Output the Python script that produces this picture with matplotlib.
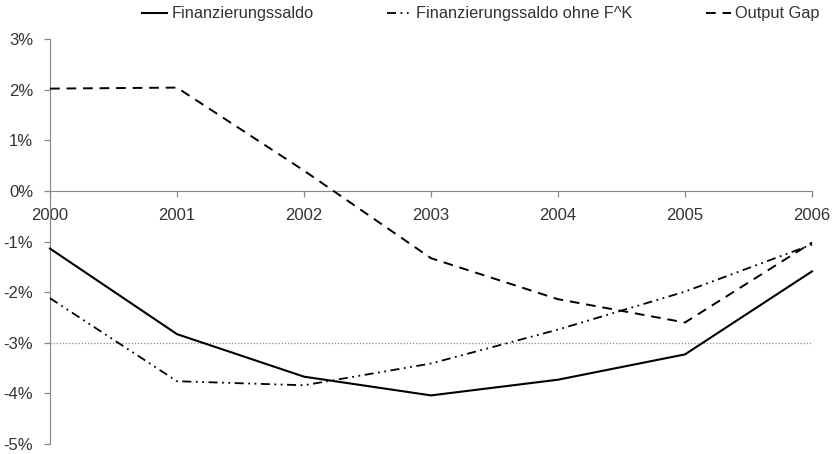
import matplotlib
matplotlib.use("Agg")
import matplotlib.pyplot as plt
from matplotlib.ticker import FuncFormatter

plt.rcParams["font.family"] = ["Liberation Sans", "DejaVu Sans"]

years = [2000, 2001, 2002, 2003, 2004, 2005, 2006]
saldo = [-1.14, -2.83, -3.67, -4.04, -3.73, -3.23, -1.59]
saldo_ohne_fk = [-2.12, -3.76, -3.84, -3.41, -2.74, -1.99, -1.06]
output_gap = [2.02, 2.04, 0.40, -1.33, -2.14, -2.60, -1.02]
y_ticks = [-5, -4, -3, -2, -1, 0, 1, 2, 3]
grenze = -3

fig = plt.figure(figsize=(8.36, 4.54), dpi=100)
ax = fig.add_axes([50 / 836, 1 - 444 / 454, 762 / 836, 405 / 454])

axis_grey = "#868686"
text_col = "#333333"

ax.axhline(grenze, color="#8a8a8a", linewidth=0.9, linestyle=(0, (1, 1.5)), zorder=1)

ax.plot(years, saldo, color="black", linewidth=1.5, label="Finanzierungssaldo",
        clip_on=False, zorder=3)
ax.plot(years, saldo_ohne_fk, color="black", linewidth=1.3,
        linestyle=(0, (5, 2.5, 1, 2.5, 1, 2.5)),
        label="Finanzierungssaldo ohne F^K", clip_on=False, zorder=3)
ax.plot(years, output_gap, color="black", linewidth=1.4,
        linestyle=(0, (5, 3.5)), label="Output Gap", clip_on=False, zorder=3)

ax.set_xlim(2000, 2006)
ax.set_ylim(-5, 3)
ax.set_xticks(years)
ax.set_yticks(y_ticks)
ax.yaxis.set_major_formatter(FuncFormatter(lambda v, p: "%d%%" % v))

ax.spines["top"].set_visible(False)
ax.spines["right"].set_visible(False)
ax.spines["bottom"].set_position(("data", 0))
ax.spines["bottom"].set_color(axis_grey)
ax.spines["left"].set_color(axis_grey)
ax.tick_params(axis="both", direction="out", length=4, width=0.9, color=axis_grey,
               labelsize=12, labelcolor=text_col, pad=8)

fig.legend(loc="upper left", bbox_to_anchor=(140 / 836, 1 - 4 / 454), ncol=3,
           frameon=False, fontsize=11.8, handlelength=1.5, handletextpad=0.25,
           columnspacing=4.5, borderpad=0.15, borderaxespad=0, labelcolor=text_col)

fig.savefig("out.png", dpi=100)
plt.close()
